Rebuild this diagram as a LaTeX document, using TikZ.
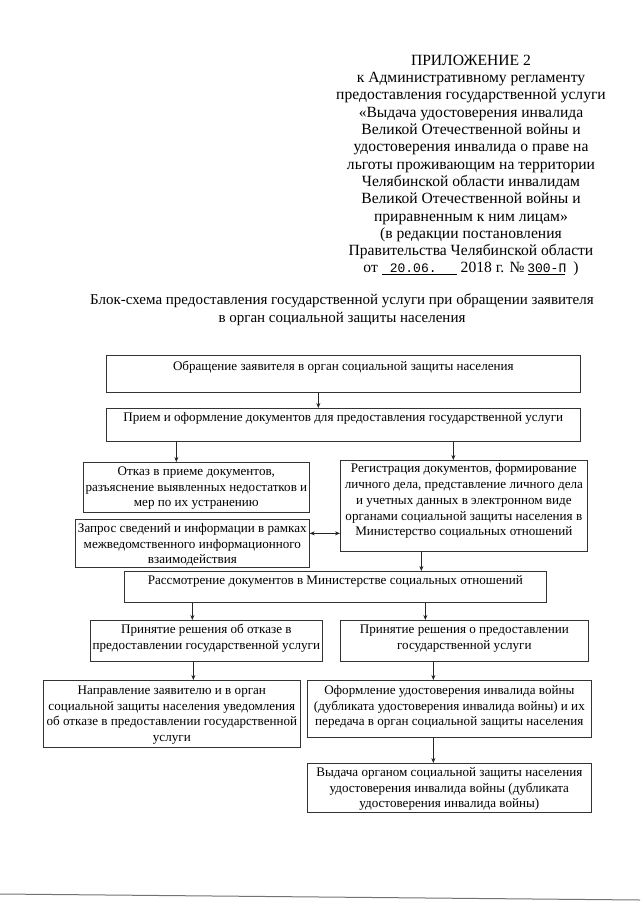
\documentclass[tikz,border=0pt]{standalone}
\usepackage{fontspec}
\setmainfont{Liberation Serif}
\newfontfamily\monof{Liberation Mono}
\usetikzlibrary{arrows.meta}
\begin{document}
\begin{tikzpicture}[x=1pt,y=-1pt,
  bx/.style={draw=black!80, line width=0.7pt, inner sep=0pt, anchor=north west},
  tx/.style={inner sep=0pt, anchor=north, align=center, font=\fontsize{13.1}{15.8}\selectfont},
  arr/.style={draw=black!85, line width=0.7pt, -{Stealth[length=5pt,width=4pt]}},
  darr/.style={draw=black!85, line width=0.7pt, {Stealth[length=5pt,width=4pt]}-{Stealth[length=5pt,width=4pt]}}
]
\useasboundingbox (0,0) rectangle (640,905);

% header
\node[inner sep=0pt, anchor=north, align=center, font=\fontsize{15.6}{17.3}\selectfont] (hdr) at (471,53)
{\strut ПРИЛОЖЕНИЕ 2\\
к Административному регламенту\\
предоставления государственной услуги\\
«Выдача удостоверения инвалида\\
Великой Отечественной войны и\\
удостоверения инвалида о праве на\\
льготы проживающим на территории\\
Челябинской области инвалидам\\
Великой Отечественной войны и\\
приравненным к ним лицам»\\
(в редакции постановления\\
Правительства Челябинской области\\
от \underline{\makebox[75pt]{\hspace{8pt}{\monof\fontsize{13}{15}\selectfont 20.06.}\hfill}} 2018 г. № \underline{\makebox[37pt]{{\monof\fontsize{13}{15}\selectfont 300-П}}}\hspace{8pt})};

% title
\node[inner sep=0pt, anchor=north, align=center, font=\fontsize{15}{18}\selectfont] (ttl) at (342,292)
{\strut Блок-схема предоставления государственной услуги при обращении заявителя\\
в орган социальной защиты населения};

% boxes
\node[bx, minimum width=474pt, minimum height=37pt] (b1) at (106,355) {};
\node[tx] (t1) at ([yshift=-4pt]b1.north) {\strut Обращение заявителя в орган социальной защиты населения};

\node[bx, minimum width=474pt, minimum height=33pt] (b2) at (106,408) {};
\node[tx] (t2) at ([yshift=-2.5pt]b2.north) {\strut Прием и оформление документов для предоставления государственной услуги};

\node[bx, minimum width=226pt, minimum height=50pt] (otk) at (83,462) {};
\node[tx] (totk) at ([yshift=-2pt]otk.north) {\strut Отказ в приеме документов,\\ разъяснение выявленных недостатков и\\ мер по их устранению};

\node[bx, minimum width=247pt, minimum height=91pt] (reg) at (340,460) {};
\node[tx] (treg) at ([yshift=-1.5pt]reg.north) {\strut Регистрация документов, формирование\\ личного дела, представление личного дела\\ и учетных данных в электронном виде\\ органами социальной защиты населения в\\ Министерство социальных отношений};

\node[bx, minimum width=234pt, minimum height=48pt] (zap) at (75,519) {};
\node[tx] (tzap) at ([yshift=-2pt]zap.north) {\strut Запрос сведений и информации в рамках\\ межведомственного информационного\\ взаимодействия};

\node[bx, minimum width=422pt, minimum height=31pt] (ras) at (124,571) {};
\node[tx] (tras) at ([yshift=-2pt]ras.north) {\strut Рассмотрение документов в Министерстве социальных отношений};

\node[bx, minimum width=232pt, minimum height=41pt] (p1) at (90,620) {};
\node[tx] (tp1) at ([yshift=-2pt]p1.north) {\strut Принятие решения об отказе в\\ предоставлении государственной услуги};

\node[bx, minimum width=248pt, minimum height=41pt] (p2) at (340,620) {};
\node[tx] (tp2) at ([yshift=-2pt]p2.north) {\strut Принятие решения о предоставлении\\ государственной услуги};

\node[bx, minimum width=257pt, minimum height=67pt] (nap) at (43,680) {};
\node[tx] (tnap) at ([yshift=-3pt]nap.north) {\strut Направление заявителю и в орган\\ социальной защиты населения уведомления\\ об отказе в предоставлении государственной\\ услуги};

\node[bx, minimum width=284pt, minimum height=57pt] (ofo) at (307,680) {};
\node[tx] (tofo) at ([yshift=-3pt]ofo.north) {\strut Оформление удостоверения инвалида войны\\ (дубликата удостоверения инвалида войны) и их\\ передача в орган социальной защиты населения};

\node[bx, minimum width=284pt, minimum height=49pt] (vyd) at (307,763) {};
\node[tx] (tvyd) at ([yshift=-2pt]vyd.north) {\strut Выдача органом социальной защиты населения\\ удостоверения инвалида войны (дубликата\\ удостоверения инвалида войны)};

% connectors
\draw[arr] ([xshift=-25pt]b1.south) -- ([xshift=-25pt]b2.north);
\draw[arr] ([xshift=-167pt]b2.south) -- ([xshift=-20pt]otk.north);
\draw[arr] ([xshift=110pt]b2.south) -- ([xshift=-10.5pt]reg.north);
\draw[darr] ([yshift=10pt]zap.east) -- ([yshift=-27.5pt]reg.west);
\draw[arr] ([xshift=-42.5pt]reg.south) -- ([xshift=86pt]ras.north);
\draw[arr] ([xshift=-143pt]ras.south) -- ([xshift=-14pt]p1.north);
\draw[arr] ([xshift=90pt]ras.south) -- ([xshift=-39pt]p2.north);
\draw[arr] ([xshift=-13pt]p1.south) -- ([xshift=21.5pt]nap.north);
\draw[arr] ([xshift=-31pt]p2.south) -- ([xshift=-16pt]ofo.north);
\draw[arr] ([xshift=-16pt]ofo.south) -- ([xshift=-16pt]vyd.north);

% scan edge line
\coordinate (eL) at (0,894);
\coordinate (eR) at (640,900);
\draw[black!55, line width=1pt] (eL) -- (eR);
\end{tikzpicture}
\end{document}
